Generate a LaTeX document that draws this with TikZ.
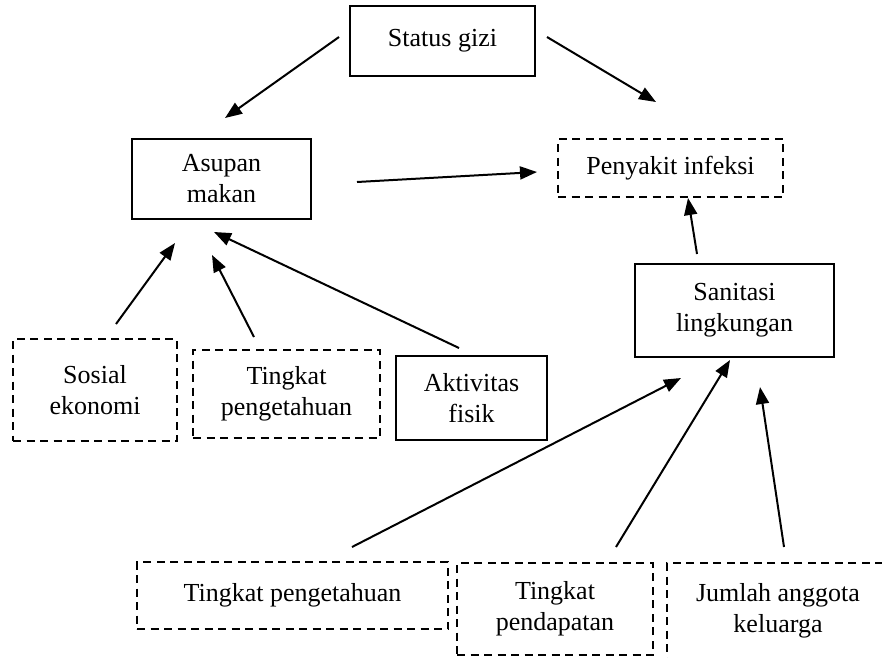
\documentclass[tikz,border=0pt]{standalone}
\usepackage{fontspec}
\setmainfont{Liberation Serif}
\usepackage{tikz}
\usetikzlibrary{arrows.meta,positioning}
\tikzset{>={Triangle[length=17pt,width=13pt]}}
\tikzset{main box/.style={draw,line width=2pt,align=center,inner sep=2pt,outer sep=0pt,
            font=\fontsize{26}{31}\selectfont},
         dash box/.style={main box,dash pattern=on 8pt off 5.5pt},
            }

\begin{document}
\begin{tikzpicture}[x=1pt,y=-1pt]
    \useasboundingbox (0,0) rectangle (882,657);

    \node[main box,minimum width=185pt,minimum height=70pt] (gizi) at (442.5,41) {Status gizi};
    \node[main box,minimum width=179pt,minimum height=80pt] (asupan) [below left = 63pt and 39pt of gizi] {Asupan\\makan};
    \node[dash box,minimum width=225pt,minimum height=58pt] (infeksi) [below right = 63pt and 23pt of gizi] {Penyakit infeksi};
    \node[main box,minimum width=199pt,minimum height=93pt] (sanitasi) [below = 67pt of infeksi, xshift=64pt] {Sanitasi\\lingkungan};

    \node[dash box,minimum width=164pt,minimum height=102pt] (sosial) [below = 120pt of asupan, xshift=-126.5pt] {Sosial\\ekonomi};
    \node[dash box,minimum width=187pt,minimum height=88pt] (tahu1) [right = 16pt of sosial, yshift=-4pt] {Tingkat\\pengetahuan};
    \node[main box,minimum width=151pt,minimum height=84pt] (aktivitas) [right = 16pt of tahu1, yshift=-4pt] {Aktivitas\\fisik};

    \node[dash box,minimum width=311pt,minimum height=67pt] (tahu2) [below = 124pt of tahu1, xshift=6pt] {Tingkat pengetahuan};
    \node[dash box,minimum width=196pt,minimum height=92pt] (pendapatan) [right = 9pt of tahu2, yshift=-13.5pt] {Tingkat\\pendapatan};
    \node[dash box,minimum width=222pt,minimum height=96pt] (jumlah) [right = 14pt of pendapatan, yshift=-2pt] {Jumlah anggota\\keluarga};

    \path[line width=2pt]
    ([xshift=-11pt,yshift=4pt]gizi.west) edge[->] ([xshift=3.5pt,yshift=21pt]asupan.north)
    ([xshift=12pt,yshift=4pt]gizi.east) edge[->] ([xshift=-14.5pt,yshift=37pt]infeksi.north)
    ([xshift=46pt,yshift=-3pt]asupan.east) edge[->] ([xshift=-21pt,yshift=-4pt]infeksi.west)
    ([xshift=-37.5pt,yshift=10pt]sanitasi.north) edge[->] ([xshift=17.5pt,yshift=-1pt]infeksi.south);

    \path[line width=2pt]
    ([xshift=21pt,yshift=15pt]sosial.north) edge[->] ([xshift=-46.5pt,yshift=-24pt]asupan.south)
    ([xshift=-32.5pt,yshift=13pt]tahu1.north) edge[->] ([xshift=-9.5pt,yshift=-36pt]asupan.south)
    ([xshift=-12.5pt,yshift=8pt]aktivitas.north) edge[->] ([xshift=-7.5pt,yshift=-13pt]asupan.south);

    \path[line width=2pt]
    ([xshift=59.5pt,yshift=15pt]tahu2.north) edge[->] ([xshift=-53.5pt,yshift=-21pt]sanitasi.south)
    ([xshift=61pt,yshift=16pt]pendapatan.north) edge[->] ([xshift=-4.5pt,yshift=-3pt]sanitasi.south)
    ([xshift=6pt,yshift=16pt]jumlah.north) edge[->] ([xshift=25.5pt,yshift=-30pt]sanitasi.south);

\end{tikzpicture}
\end{document}
